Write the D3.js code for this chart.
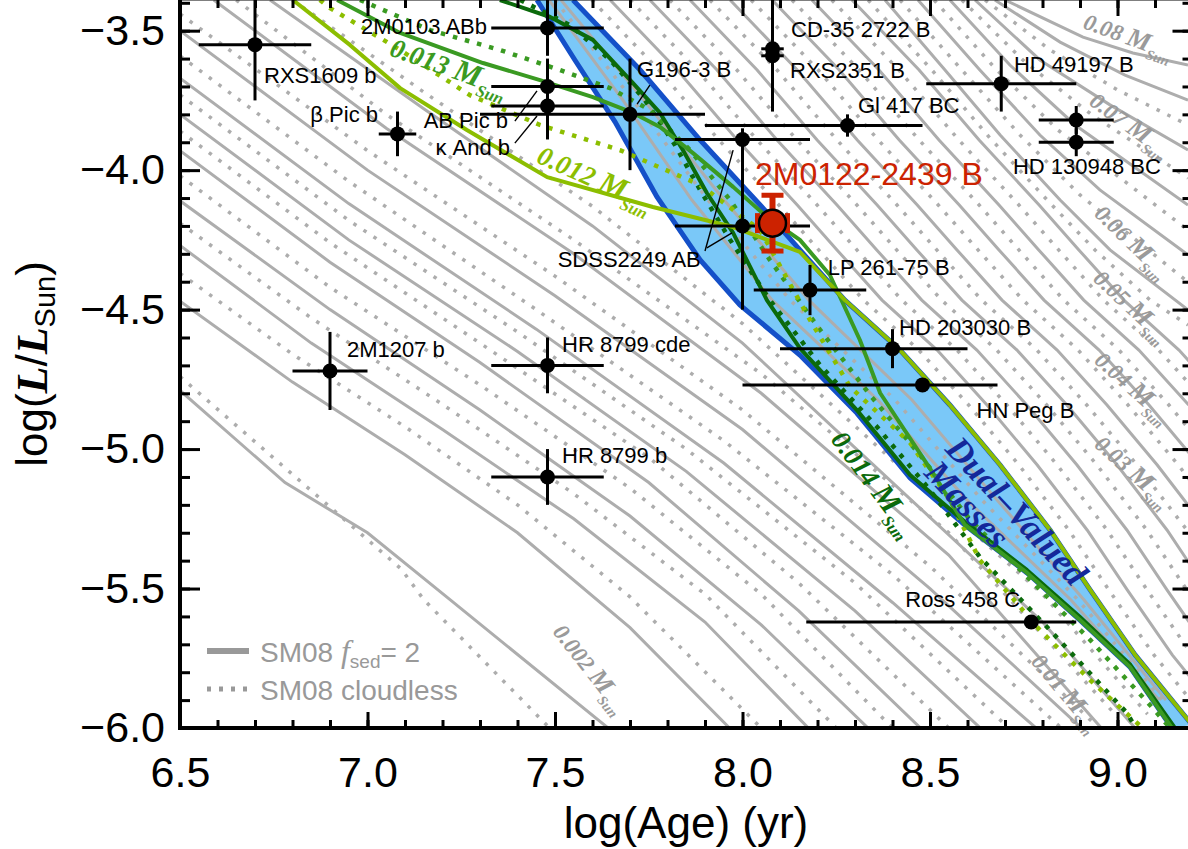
<!DOCTYPE html>
<html><head><meta charset="utf-8">
<script src="https://cdn.jsdelivr.net/npm/d3@7"></script>
<style>body{margin:0;background:#fff} svg{display:block}</style>
</head><body>
<svg id="c" width="1188" height="849"></svg>
<script>
// ---------------- DATA ----------------
const xMajor = [6.5, 7.0, 7.5, 8.0, 8.5, 9.0];
const yMajor = [-6.0, -5.5, -5.0, -4.5, -4.0, -3.5];

const objNames = ["RXS1609 b","β Pic b","2M1207 b","HR 8799 cde","HR 8799 b","2M0103 ABb","AB Pic b","κ And b","G196-3 B","CD-35 2722 B","RXS2351 B","Gl 417 BC","HD 49197 B","HD 130948 BC","","","SDSS2249 AB","LP 261-75 B","HD 203030 B","HN Peg B","Ross 458 C"];
const objAge = [6.70, 7.08, 6.90, 7.48, 7.48, 7.48, 7.48, 7.48, 7.70, 8.08, 8.08, 8.28, 8.69, 8.89, 8.89, 8.00, 8.00, 8.18, 8.40, 8.48, 8.77];
const objLum = [-3.55, -3.87, -4.72, -4.70, -5.10, -3.49, -3.70, -3.77, -3.80, -3.565, -3.59, -3.84, -3.69, -3.82, -3.90, -3.89, -4.20, -4.43, -4.64, -4.77, -5.62];
const objAgeErrLo = [0.15, 0.05, 0.10, 0.15, 0.15, 0.15, 0.15, 0.15, 0.40, 0.03, 0.03, 0.38, 0.20, 0.10, 0.10, 0.18, 0.18, 0.15, 0.30, 0.48, 0.60];
const objAgeErrHi = [0.15, 0.05, 0.10, 0.15, 0.15, 0.15, 0.15, 0.15, 0.20, 0.03, 0.03, 0.20, 0.20, 0.10, 0.10, 0.18, 0.18, 0.15, 0.20, 0.20, 0.12];
const objLumErr   = [0.20, 0.08, 0.14, 0.10, 0.10, 0.10, 0.10, 0.12, 0.20, 0.03, 0.20, 0.04, 0.10, 0.05, 0.05, 0.04, 0.30, 0.09, 0.07, 0.02, 0.02];

const targetName = "2M0122-2439 B";
const targetAge = 8.08, targetLum = -4.19, targetAgeErr = 0.04, targetLumErr = 0.10;

const leaderLines = [
  [[7.393,-3.824],[7.452,-3.716]],
  [[7.393,-3.903],[7.452,-3.806]],
  [[7.719,-3.763],[7.753,-3.695]],
  [[7.900,-4.290],[7.975,-3.928]],
  [[7.905,-4.279],[7.972,-4.225]]
];

const bandUpper = [[7.548,-3.39],[7.727,-3.641],[7.887,-3.892],[8.047,-4.125],[8.153,-4.286],[8.273,-4.466],[8.420,-4.645],[8.553,-4.842],[8.687,-5.057],[8.820,-5.290],[8.927,-5.505],[9.047,-5.738],[9.199,-5.989]];
const bandLower = [[7.452,-3.39],[7.553,-3.605],[7.660,-3.827],[7.772,-4.096],[7.887,-4.322],[7.993,-4.483],[8.153,-4.663],[8.305,-4.871],[8.447,-5.104],[8.593,-5.272],[8.759,-5.444],[8.900,-5.613],[9.033,-5.781],[9.145,-6.0]];

const track012Solid = [[6.801,-3.39],[6.953,-3.551],[7.087,-3.706],[7.265,-3.856],[7.479,-4.025],[7.761,-4.132],[7.975,-4.204],[8.153,-4.293],[8.273,-4.466],[8.420,-4.645],[8.553,-4.842],[8.687,-5.057],[8.820,-5.290],[8.927,-5.505],[9.047,-5.738],[9.199,-5.989]];
const track012Dotted = [[6.873,-3.39],[6.900,-3.419],[7.087,-3.569],[7.273,-3.731],[7.460,-3.838],[7.673,-3.928],[7.887,-4.053],[8.047,-4.215],[8.180,-4.537],[8.287,-4.777],[8.447,-4.978],[8.553,-5.183],[8.633,-5.398],[8.793,-5.649],[8.927,-5.828],[9.087,-6.025]];
const track013Solid = [[6.919,-3.39],[7.087,-3.508],[7.308,-3.616],[7.460,-3.677],[7.601,-3.738],[7.708,-3.795],[7.780,-3.845],[7.868,-3.939],[7.975,-4.060],[8.065,-4.168],[8.153,-4.250],[8.233,-4.376],[8.313,-4.609],[8.367,-4.799],[8.508,-5.086],[8.593,-5.272],[8.759,-5.444],[8.900,-5.613],[9.033,-5.781],[9.145,-6.0]];
const track013Dotted = [[6.980,-3.39],[7.167,-3.498],[7.353,-3.569],[7.513,-3.641],[7.647,-3.706],[7.753,-3.784],[7.860,-3.928],[7.967,-4.107],[8.073,-4.322],[8.207,-4.573],[8.340,-4.806],[8.473,-5.021],[8.607,-5.254],[8.767,-5.469],[8.927,-5.684],[9.087,-5.918],[9.140,-6.0]];
const track014Solid = [[7.353,-3.39],[7.487,-3.451],[7.601,-3.533],[7.708,-3.688],[7.780,-3.795],[7.841,-3.928],[7.905,-4.082],[7.975,-4.225],[8.065,-4.466],[8.153,-4.638],[8.305,-4.860],[8.447,-5.093],[8.593,-5.261],[8.759,-5.434],[8.900,-5.602],[9.033,-5.771],[9.153,-6.0]];
const track014Dotted = [[7.407,-3.39],[7.540,-3.480],[7.647,-3.605],[7.740,-3.749],[7.820,-3.910],[7.887,-4.071],[7.967,-4.250],[8.073,-4.466],[8.207,-4.699],[8.359,-4.921],[8.500,-5.147],[8.633,-5.387],[8.820,-5.649],[9.025,-5.946],[9.060,-6.025]];

const grayLeftSolid = [
 [[6.50,-4.79],[6.78,-5.12],[7.00,-5.30],[7.22,-5.54],[7.66,-6.02]],
 [[6.50,-4.47],[6.80,-4.76],[7.10,-5.02],[7.40,-5.30],[7.70,-5.64],[7.98,-6.02]],
 [[6.50,-4.27],[6.85,-4.62],[7.20,-4.93],[7.55,-5.25],[7.90,-5.62],[8.19,-6.02]],
 [[6.50,-4.11],[6.90,-4.50],[7.30,-4.86],[7.70,-5.24],[8.05,-5.63],[8.35,-6.02]],
 [[6.50,-3.93],[6.90,-4.33],[7.30,-4.69],[7.75,-5.12],[8.15,-5.58],[8.49,-6.02]],
 [[6.50,-3.80],[6.95,-4.25],[7.40,-4.65],[7.85,-5.08],[8.30,-5.58],[8.65,-6.02]],
 [[6.50,-3.67],[6.95,-4.12],[7.45,-4.57],[7.95,-5.05],[8.40,-5.55],[8.80,-6.02]],
 [[6.50,-3.50],[7.00,-4.00],[7.50,-4.45],[8.00,-4.93],[8.50,-5.50],[8.92,-6.02]],
 [[6.59,-3.39],[7.05,-3.85],[7.55,-4.30],[8.05,-4.80],[8.55,-5.38],[8.97,-6.02]],
 [[6.74,-3.39],[7.15,-3.78],[7.60,-4.20],[8.00,-4.62],[8.40,-5.12],[8.80,-5.62],[9.06,-6.02]]
];
const grayLeftDotted = [
 [[6.50,-4.74],[7.09,-5.43],[7.15,-5.54],[7.50,-6.02]],
 [[6.50,-4.37],[6.80,-4.66],[7.10,-4.92],[7.40,-5.20],[7.70,-5.53],[8.05,-6.0]],
 [[6.50,-4.19],[6.85,-4.53],[7.20,-4.84],[7.55,-5.16],[7.90,-5.52],[8.25,-6.0]],
 [[6.50,-4.02],[6.90,-4.42],[7.30,-4.77],[7.70,-5.14],[8.05,-5.52],[8.40,-6.0]],
 [[6.50,-3.86],[6.90,-4.26],[7.30,-4.62],[7.75,-5.03],[8.15,-5.48],[8.55,-6.0]],
 [[6.50,-3.73],[6.95,-4.18],[7.40,-4.58],[7.85,-5.00],[8.30,-5.48],[8.71,-6.0]],
 [[6.50,-3.59],[6.95,-4.04],[7.45,-4.50],[7.95,-4.97],[8.40,-5.45],[8.85,-6.0]],
 [[6.50,-3.44],[7.00,-3.93],[7.50,-4.38],[8.00,-4.86],[8.50,-5.42],[8.95,-6.0]],
 [[6.65,-3.39],[7.05,-3.80],[7.55,-4.25],[8.05,-4.73],[8.55,-5.30],[9.00,-5.96]],
 [[6.80,-3.39],[7.15,-3.72],[7.60,-4.13],[8.00,-4.55],[8.40,-5.04],[8.80,-5.52],[9.08,-5.95]]
];
const grayBandSolid = [
 [[7.484,-3.39],[7.681,-3.749],[7.865,-4.107],[8.079,-4.466],[8.361,-4.824],[8.599,-5.183],[8.876,-5.541],[9.111,-5.90]],
 [[7.516,-3.39],[7.737,-3.749],[7.951,-4.107],[8.177,-4.466],[8.452,-4.824],[8.679,-5.183],[8.911,-5.541],[9.129,-5.90]]
];
const grayBandDotted = [
 [[7.500,-3.39],[7.708,-3.749],[7.908,-4.107],[8.127,-4.466],[8.407,-4.824],[8.639,-5.183],[8.895,-5.541],[9.119,-5.90]]
];
const grayRightSolid = [
 [[7.647,-3.39],[7.826,-3.641],[7.986,-3.892],[8.146,-4.125],[8.252,-4.286],[8.372,-4.466],[8.519,-4.645],[8.652,-4.842],[8.786,-5.057],[8.919,-5.290],[9.026,-5.505],[9.146,-5.738],[9.298,-5.989]],
 [[7.753,-3.39],[7.932,-3.641],[8.092,-3.892],[8.252,-4.125],[8.358,-4.286],[8.478,-4.466],[8.625,-4.645],[8.758,-4.842],[8.892,-5.057],[9.025,-5.290],[9.132,-5.505],[9.252,-5.738]],
 [[7.860,-3.39],[8.039,-3.641],[8.199,-3.892],[8.359,-4.125],[8.465,-4.286],[8.585,-4.466],[8.732,-4.645],[8.865,-4.842],[8.999,-5.057],[9.132,-5.290],[9.239,-5.505]],
 [[7.967,-3.39],[8.146,-3.641],[8.306,-3.892],[8.466,-4.125],[8.572,-4.286],[8.692,-4.466],[8.839,-4.645],[8.972,-4.842],[9.106,-5.057],[9.239,-5.290]],
 [[8.079,-3.39],[8.258,-3.641],[8.418,-3.892],[8.578,-4.125],[8.684,-4.286],[8.804,-4.466],[8.951,-4.645],[9.084,-4.842],[9.218,-5.057]],
 [[8.185,-3.39],[8.364,-3.641],[8.524,-3.892],[8.684,-4.125],[8.790,-4.286],[8.910,-4.466],[9.057,-4.645],[9.190,-4.842]],
 [[8.292,-3.39],[8.471,-3.641],[8.631,-3.892],[8.791,-4.125],[8.897,-4.286],[9.017,-4.466],[9.164,-4.645],[9.297,-4.842]],
 [[8.380,-3.39],[8.540,-3.641],[8.687,-3.874],[8.847,-4.107],[8.980,-4.286],[9.188,-4.501]],
 [[8.468,-3.39],[8.633,-3.641],[8.793,-3.874],[8.953,-4.071],[9.188,-4.304]],
 [[8.553,-3.39],[8.713,-3.623],[8.887,-3.838],[9.188,-4.125]],
 [[8.620,-3.39],[8.793,-3.605],[8.980,-3.766],[9.188,-3.928]],
 [[8.673,-3.39],[8.847,-3.541],[9.020,-3.659],[9.188,-3.749]],
 [[8.700,-3.39],[8.908,-3.523],[9.041,-3.580],[9.188,-3.623]]
];
const grayRightDotted = [
 [[7.598,-3.39],[7.777,-3.641],[7.937,-3.892],[8.097,-4.125],[8.203,-4.286],[8.323,-4.466],[8.470,-4.645],[8.603,-4.842],[8.737,-5.057],[8.870,-5.290],[8.977,-5.505],[9.097,-5.738],[9.249,-5.989]],
 [[7.700,-3.39],[7.879,-3.641],[8.039,-3.892],[8.199,-4.125],[8.305,-4.286],[8.425,-4.466],[8.572,-4.645],[8.705,-4.842],[8.839,-5.057],[8.972,-5.290],[9.079,-5.505],[9.199,-5.738]],
 [[7.806,-3.39],[7.985,-3.641],[8.145,-3.892],[8.305,-4.125],[8.411,-4.286],[8.531,-4.466],[8.678,-4.645],[8.811,-4.842],[8.945,-5.057],[9.078,-5.290],[9.185,-5.505],[9.305,-5.738]],
 [[7.913,-3.39],[8.092,-3.641],[8.252,-3.892],[8.412,-4.125],[8.518,-4.286],[8.638,-4.466],[8.785,-4.645],[8.918,-4.842],[9.052,-5.057],[9.185,-5.290],[9.292,-5.505]],
 [[8.023,-3.39],[8.202,-3.641],[8.362,-3.892],[8.522,-4.125],[8.628,-4.286],[8.748,-4.466],[8.895,-4.645],[9.028,-4.842],[9.162,-5.057],[9.295,-5.290]],
 [[8.132,-3.39],[8.311,-3.641],[8.471,-3.892],[8.631,-4.125],[8.737,-4.286],[8.857,-4.466],[9.004,-4.645],[9.137,-4.842],[9.271,-5.057]],
 [[8.238,-3.39],[8.417,-3.641],[8.577,-3.892],[8.737,-4.125],[8.843,-4.286],[8.963,-4.466],[9.110,-4.645],[9.243,-4.842]],
 [[8.335,-3.39],[8.505,-3.641],[8.660,-3.885],[8.820,-4.118],[8.940,-4.286],[9.087,-4.466],[9.188,-4.555]],
 [[8.420,-3.39],[8.585,-3.641],[8.740,-3.874],[8.900,-4.089],[9.188,-4.401]],
 [[8.511,-3.39],[8.673,-3.634],[8.841,-3.856],[9.188,-4.215]],
 [[8.585,-3.39],[8.753,-3.612],[8.932,-3.802],[9.188,-4.028]],
 [[8.647,-3.39],[8.820,-3.569],[9.001,-3.713],[9.188,-3.838]]
];

const massLabelText = ["0.08","0.07","0.06","0.05","0.04","0.03","0.01","0.002","0.012","0.013","0.014"];

// ---------------- LAYOUT ----------------
const massLabelLayout = [
 {x:8.905,y:-3.49,rot:20,size:23,color:"#9a9a9a"},
 {x:8.921,y:-3.763,rot:36,size:23,color:"#9a9a9a"},
 {x:8.935,y:-4.161,rot:44,size:23,color:"#9a9a9a"},
 {x:8.932,y:-4.394,rot:43,size:23,color:"#9a9a9a"},
 {x:8.935,y:-4.688,rot:42,size:23,color:"#9a9a9a"},
 {x:8.935,y:-4.989,rot:42,size:23,color:"#9a9a9a"},
 {x:8.767,y:-5.763,rot:50,size:23,color:"#9a9a9a"},
 {x:7.492,y:-5.656,rot:52,size:23,color:"#9a9a9a"},
 {x:7.447,y:-3.971,rot:24,size:27,color:"#8cbe00"},
 {x:7.055,y:-3.587,rot:20,size:27,color:"#3a9a22"},
 {x:8.233,y:-4.967,rot:53,size:27,color:"#0b6a0b"}
];
const labelLayout = [
 {dx:9,dy:38.5,a:"start"},{dx:-19.5,dy:-12,a:"end"},{dx:17,dy:-14,a:"start"},{dx:14.5,dy:-13,a:"start"},
 {dx:14.5,dy:-14,a:"start"},{dx:-60.5,dy:6,a:"end"},{dx:-39.5,dy:41.5,a:"end"},{dx:-37.5,dy:49,a:"end"},
 {dx:7,dy:-37,a:"start"},{dx:18.5,dy:-12,a:"start"},{dx:17.5,dy:22,a:"start"},{dx:10.5,dy:-12.5,a:"start"},
 {dx:12.7,dy:-11.7,a:"start"},{dx:-63.3,dy:54.5,a:"start"},{dx:0,dy:0,a:"start"},{dx:0,dy:0,a:"start"},
 {dx:-184.8,dy:41,a:"start"},{dx:17.7,dy:-15,a:"start"},{dx:6.5,dy:-13.7,a:"start"},{dx:54,dy:33,a:"start"},
 {dx:-126,dy:-15,a:"start"}
];

// ---------------- DRAW ----------------
const SANS = "'Liberation Sans', Arial, Helvetica, sans-serif";
const SERIF = "'Liberation Serif', 'Times New Roman', Times, serif";
const svg = d3.select("#c");
svg.append("rect").attr("width",1188).attr("height",849).attr("fill","#fff");

const x = d3.scaleLinear().domain([6.5, 9.2]).range([180, 1192.5]);
const y = d3.scaleLinear().domain([-6.0, -3.39]).range([728, 0]);
const line = d3.line().x(d => x(d[0])).y(d => y(d[1]));

svg.append("defs").append("clipPath").attr("id","clip")
  .append("rect").attr("x",180).attr("y",0).attr("width",1012.5).attr("height",728);
const plot = svg.append("g").attr("clip-path","url(#clip)");

const bandPoly = bandUpper.concat(bandLower.slice().reverse());
plot.append("path").attr("d", line(bandPoly.concat([bandPoly[0]])))
  .attr("fill","#7ac8f8").attr("stroke","none");

const GRAY = "#adadad";
function grayTracks(arr, dotted){
  plot.append("g").selectAll("path").data(arr).join("path")
    .attr("d", d => line(d)).attr("fill","none").attr("stroke",GRAY)
    .attr("stroke-width", dotted ? 3.5 : 3)
    .attr("stroke-dasharray", dotted ? "3.5 8.5" : null);
}
grayTracks(grayLeftDotted, true);
grayTracks(grayRightDotted, true);
grayTracks(grayBandDotted, true);
grayTracks(grayLeftSolid, false);
grayTracks(grayRightSolid, false);
grayTracks(grayBandSolid, false);

[bandUpper, bandLower].forEach(b => {
  plot.append("path").attr("d", line(b)).attr("fill","none")
    .attr("stroke","#1450c8").attr("stroke-width",5);
});

function colorTrack(arr, color, dotted){
  plot.append("path").attr("d", line(arr)).attr("fill","none")
    .attr("stroke", color).attr("stroke-width", dotted ? 4.5 : 4)
    .attr("stroke-dasharray", dotted ? "4.5 8" : null)
    .attr("stroke-linejoin","round");
}
colorTrack(track014Dotted, "#0b6a0b", true);
colorTrack(track013Dotted, "#3a9a22", true);
colorTrack(track012Dotted, "#8cbe00", true);
colorTrack(track014Solid, "#0b6a0b", false);
colorTrack(track013Solid, "#3a9a22", false);
colorTrack(track012Solid, "#8cbe00", false);

massLabelText.forEach((t, i) => {
  const L = massLabelLayout[i];
  const g = svg.append("text")
    .attr("transform", `translate(${x(L.x)},${y(L.y)}) rotate(${L.rot})`)
    .attr("font-family", SERIF).attr("font-style","italic").attr("font-weight","bold")
    .attr("font-size", L.size).attr("fill", L.color);
  g.append("tspan").text(t + " ");
  g.append("tspan").attr("font-size", L.size*1.15).text("M");
  g.append("tspan").attr("font-size", L.size*0.62).attr("dy", L.size*0.3).text("Sun");
});

const dv = svg.append("g").attr("font-family", SERIF).attr("font-style","italic")
  .attr("font-weight","bold").attr("font-size",35).attr("fill","#14289a");
dv.append("text").attr("transform", `translate(${x(8.537)},${y(-5.003)}) rotate(47)`).text("Dual–Valued");
dv.append("text").attr("transform", `translate(${x(8.481)},${y(-5.089)}) rotate(47)`).text("Masses");

const lg = svg.append("g");
lg.append("line").attr("x1",207).attr("x2",249).attr("y1",651).attr("y2",651)
  .attr("stroke","#999").attr("stroke-width",6);
lg.append("line").attr("x1",207).attr("x2",249).attr("y1",689).attr("y2",689)
  .attr("stroke","#999").attr("stroke-width",5).attr("stroke-dasharray","4 8");
const lt1 = lg.append("text").attr("x",260).attr("y",662).attr("font-family",SANS)
  .attr("font-size",28).attr("fill","#999");
lt1.append("tspan").text("SM08 ");
lt1.append("tspan").attr("font-family",SERIF).attr("font-style","italic").attr("font-size",32).text("f");
lt1.append("tspan").attr("font-size",19).attr("dy",6).text("sed");
lt1.append("tspan").attr("dy",-6).text("= 2");
lg.append("text").attr("x",260).attr("y",700).attr("font-family",SANS)
  .attr("font-size",28).attr("fill","#999").text("SM08 cloudless");

const pts = svg.append("g");
objAge.forEach((a, i) => {
  const l = objLum[i];
  pts.append("line").attr("x1",x(a-objAgeErrLo[i])).attr("x2",x(a+objAgeErrHi[i]))
    .attr("y1",y(l)).attr("y2",y(l)).attr("stroke","#000").attr("stroke-width",3);
  pts.append("line").attr("x1",x(a)).attr("x2",x(a))
    .attr("y1",y(l-objLumErr[i])).attr("y2",y(l+objLumErr[i])).attr("stroke","#000").attr("stroke-width",3);
});
pts.selectAll("circle").data(objAge).join("circle")
  .attr("cx", d => x(d)).attr("cy", (d,i) => y(objLum[i])).attr("r",7.5).attr("fill","#000");

svg.append("g").selectAll("path").data(leaderLines).join("path")
  .attr("d", d => line(d)).attr("stroke","#000").attr("stroke-width",1.4).attr("fill","none");

objNames.forEach((n, i) => {
  if (!n) return;
  const L = labelLayout[i];
  svg.append("text").attr("x", x(objAge[i]) + L.dx).attr("y", y(objLum[i]) + L.dy)
    .attr("text-anchor", L.a).attr("font-family", SANS).attr("font-size",22)
    .attr("fill","#000").text(n);
});

const RED = "#cc2200";
const tg = svg.append("g");
const tx = x(targetAge), ty = y(targetLum);
tg.append("line").attr("x1",tx).attr("x2",tx).attr("y1",y(targetLum-targetLumErr)).attr("y2",y(targetLum+targetLumErr))
  .attr("stroke",RED).attr("stroke-width",6);
[targetLum-targetLumErr, targetLum+targetLumErr].forEach(v => {
  tg.append("line").attr("x1",tx-11).attr("x2",tx+11).attr("y1",y(v)).attr("y2",y(v)).attr("stroke",RED).attr("stroke-width",5);
});
tg.append("line").attr("x1",x(targetAge-targetAgeErr)).attr("x2",x(targetAge+targetAgeErr)).attr("y1",ty).attr("y2",ty)
  .attr("stroke",RED).attr("stroke-width",6);
[targetAge-targetAgeErr, targetAge+targetAgeErr].forEach(v => {
  tg.append("line").attr("x1",x(v)).attr("x2",x(v)).attr("y1",ty-10).attr("y2",ty+10).attr("stroke",RED).attr("stroke-width",5);
});
tg.append("circle").attr("cx",tx).attr("cy",ty).attr("r",13.5).attr("fill",RED).attr("stroke","#000").attr("stroke-width",2.5);
svg.append("text").attr("x",tx-17.5).attr("y",ty-38).attr("font-family",SANS).attr("font-size",32)
  .attr("fill",RED).text(targetName);

const xMinor = d3.range(65, 93).map(v => v/10);
const yMinor = d3.range(-60, -33).map(v => v/10);
const fmt = d3.format(".1f");
function styleAxis(g){
  g.select(".domain").remove();
  g.selectAll(".tick line").attr("stroke","#000").attr("stroke-width",3);
  g.selectAll(".tick text").attr("font-family",SANS).attr("font-size",43).attr("fill","#000");
}
svg.append("g").attr("transform","translate(0,728)")
  .call(d3.axisBottom(x).tickValues(xMinor).tickSize(-8).tickFormat("")).call(styleAxis);
svg.append("g").attr("transform","translate(0,728)")
  .call(d3.axisBottom(x).tickValues(xMajor).tickSize(-16).tickPadding(28.5).tickFormat(fmt)).call(styleAxis);
svg.append("g").attr("transform","translate(0,-1)")
  .call(d3.axisTop(x).tickValues(xMinor).tickSize(-9).tickFormat("")).call(styleAxis);
svg.append("g").attr("transform","translate(0,-1)")
  .call(d3.axisTop(x).tickValues(xMajor).tickSize(-17).tickFormat("")).call(styleAxis);
svg.append("g").attr("transform","translate(180,0)")
  .call(d3.axisLeft(y).tickValues(yMinor).tickSize(-10).tickFormat("")).call(styleAxis);
svg.append("g").attr("transform","translate(180,0)")
  .call(d3.axisLeft(y).tickValues(yMajor).tickSize(-20).tickPadding(15).tickFormat(fmt)).call(styleAxis);
svg.append("g").attr("transform","translate(1192.5,0)")
  .call(d3.axisRight(y).tickValues(yMinor).tickSize(-10).tickFormat("")).call(styleAxis);
svg.append("g").attr("transform","translate(1192.5,0)")
  .call(d3.axisRight(y).tickValues(yMajor).tickSize(-20).tickFormat("")).call(styleAxis);

svg.append("rect").attr("x",180).attr("y",-1.5).attr("width",1012.5).attr("height",729.5)
  .attr("fill","none").attr("stroke","#000").attr("stroke-width",4);

svg.append("text").attr("x",686).attr("y",838).attr("text-anchor","middle")
  .attr("font-family",SANS).attr("font-size",44).attr("fill","#000").text("log(Age) (yr)");
const yt = svg.append("text").attr("transform","translate(47,364) rotate(-90)")
  .attr("text-anchor","middle").attr("font-family",SANS).attr("font-size",44).attr("fill","#000");
yt.append("tspan").text("log(");
yt.append("tspan").attr("font-family",SERIF).attr("font-style","italic").attr("font-weight","bold").text("L");
yt.append("tspan").text("/");
yt.append("tspan").attr("font-family",SERIF).attr("font-style","italic").attr("font-weight","bold").text("L");
yt.append("tspan").attr("font-size",29).attr("dy",8).text("Sun");
yt.append("tspan").attr("dy",-8).text(")");
</script>
</body></html>
